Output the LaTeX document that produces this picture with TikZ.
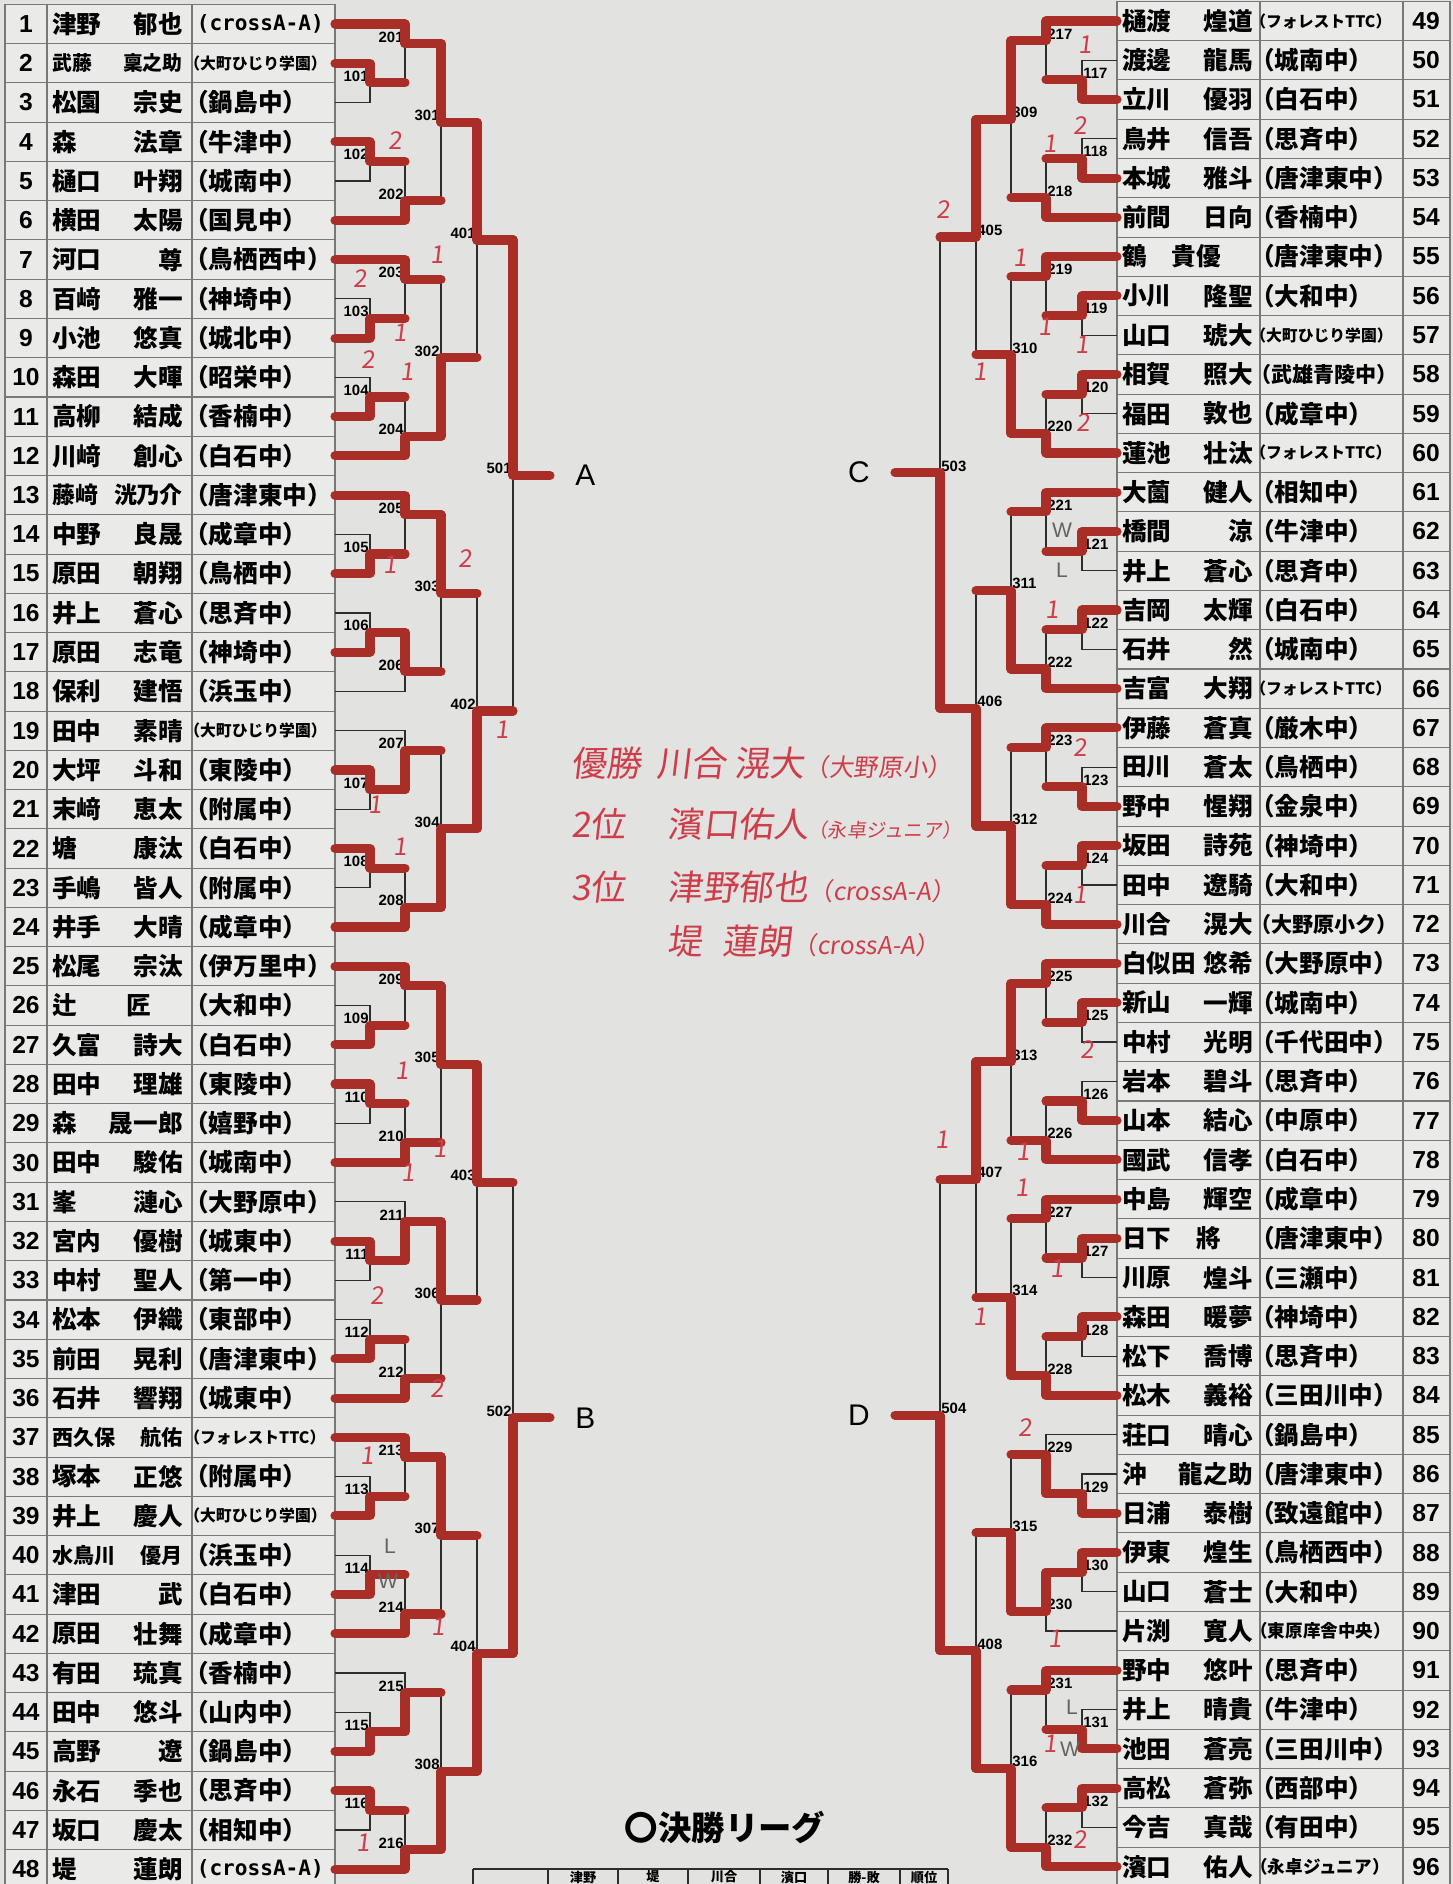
\documentclass[tikz,border=0pt]{standalone}
\usepackage{fontspec}
\setmainfont{Noto Sans CJK JP}
\newfontfamily\labfont{Liberation Sans}
\newfontfamily\monofont{DejaVu Sans Mono}
\newfontfamily\handfont[FakeSlant=0.12]{Noto Sans CJK JP}
\usetikzlibrary{calc,positioning}

\definecolor{paper}{RGB}{226,226,224}
\definecolor{cell}{RGB}{234,234,233}
\definecolor{gridgray}{RGB}{120,120,120}
\definecolor{inkline}{RGB}{45,45,45}
\definecolor{marker}{RGB}{170,46,40}
\definecolor{pen}{RGB}{205,62,74}
\definecolor{pencil}{RGB}{100,100,100}

\newcommand\crossaa{\hspace{0.25cm}{\monofont\fontsize{12}{12}\selectfont (crossA-A)}}

% match / entrant a / entrant b / next / winner
\newcommand\leftmatches{%
101/p2/p3/m201/p2, 201/p1/m101/m301/p1,
102/p4/p5/m202/p4, 202/m102/p6/m301/p6,
103/p8/p9/m203/p9, 203/p7/m103/m302/p7,
104/p10/p11/m204/p11, 204/m104/p12/m302/p12,
105/p14/p15/m205/p15, 205/p13/m105/m303/p13,
106/p16/p17/m206/p17, 206/m106/p18/m303/m106,
107/p20/p21/m207/p20, 207/p19/m107/m304/m107,
108/p22/p23/m208/p22, 208/m108/p24/m304/p24,
109/p26/p27/m209/p27, 209/p25/m109/m305/p25,
110/p28/p29/m210/p28, 210/m110/p30/m305/p30,
111/p32/p33/m211/p32, 211/p31/m111/m306/m111,
112/p34/p35/m212/p35, 212/m112/p36/m306/p36,
113/p38/p39/m213/p39, 213/p37/m113/m307/p37,
114/p40/p41/m214/p41, 214/m114/p42/m307/p42,
115/p44/p45/m215/p45, 215/p43/m115/m308/m115,
116/p46/p47/m216/p46, 216/m116/p48/m308/p48,
301/m201/m202/m401/m201, 302/m203/m204/m401/m204,
303/m205/m206/m402/m205, 304/m207/m208/m402/m208,
305/m209/m210/m403/m209, 306/m211/m212/m403/m211,
307/m213/m214/m404/m213, 308/m215/m216/m404/m216,
401/m301/m302/m501/m301, 402/m303/m304/m501/m304,
403/m305/m306/m502/m305, 404/m307/m308/m502/m308,
501/m401/m402/oA/m401, 502/m403/m404/oB/m404}

\newcommand\rightmatches{%
117/p50/p51/m217/p51, 217/p49/m117/m309/p49,
118/p52/p53/m218/p53, 218/m118/p54/m309/p54,
119/p56/p57/m219/p56, 219/p55/m119/m310/p55,
120/p58/p59/m220/p58, 220/m120/p60/m310/p60,
121/p62/p63/m221/p62, 221/p61/m121/m311/p61,
122/p64/p65/m222/p64, 222/m122/p66/m311/p66,
123/p68/p69/m223/p69, 223/p67/m123/m312/p67,
124/p70/p71/m224/p70, 224/m124/p72/m312/p72,
125/p74/p75/m225/p74, 225/p73/m125/m313/p73,
126/p76/p77/m226/p77, 226/m126/p78/m313/p78,
127/p80/p81/m227/p80, 227/p79/m127/m314/p79,
128/p82/p83/m228/p82, 228/m128/p84/m314/p84,
129/p86/p87/m229/p87, 229/p85/m129/m315/m129,
130/p88/p89/m230/p88, 230/m130/p90/m315/m130,
131/p92/p93/m231/p93, 231/p91/m131/m316/p91,
132/p94/p95/m232/p94, 232/m132/p96/m316/p96,
309/m217/m218/m405/m217, 310/m219/m220/m405/m220,
311/m221/m222/m406/m222, 312/m223/m224/m406/m224,
313/m225/m226/m407/m225, 314/m227/m228/m407/m228,
315/m229/m230/m408/m230, 316/m231/m232/m408/m232,
405/m309/m310/m503/m309, 406/m311/m312/m503/m312,
407/m313/m314/m504/m313, 408/m315/m316/m504/m316,
503/m405/m406/oC/m406, 504/m407/m408/oD/m408}

% no / family / given / size / school / size
\newcommand\leftplayers{%
1/津野/郁也/14/\crossaa/14, 2/武藤/稟之助/11.3/（大町ひじり学園）/9,
3/松園/宗史/14/（鍋島中）/14, 4/森/法章/14/（牛津中）/14,
5/樋口/叶翔/14/（城南中）/14, 6/横田/太陽/14/（国見中）/14,
7/河口/尊/14/（鳥栖西中）/14, 8/百﨑/雅一/14/（神埼中）/14,
9/小池/悠真/14/（城北中）/14, 10/森田/大暉/14/（昭栄中）/14,
11/高柳/結成/14/（香楠中）/14, 12/川﨑/創心/14/（白石中）/14,
13/藤﨑/洸乃介/13/（唐津東中）/14, 14/中野/良晟/14/（成章中）/14,
15/原田/朝翔/14/（鳥栖中）/14, 16/井上/蒼心/14/（思斉中）/14,
17/原田/志竜/14/（神埼中）/14, 18/保利/建悟/14/（浜玉中）/14,
19/田中/素晴/14/（大町ひじり学園）/9, 20/大坪/斗和/14/（東陵中）/14,
21/末﨑/恵太/14/（附属中）/14, 22/塘/康汰/14/（白石中）/14,
23/手嶋/皆人/14/（附属中）/14, 24/井手/大晴/14/（成章中）/14,
25/松尾/宗汰/14/（伊万里中）/14, 26/辻　　匠//14/（大和中）/14,
27/久富/詩大/14/（白石中）/14, 28/田中/理雄/14/（東陵中）/14,
29/森/晟一郎/14/（嬉野中）/14, 30/田中/駿佑/14/（城南中）/14,
31/峯/漣心/14/（大野原中）/14, 32/宮内/優樹/14/（城東中）/14,
33/中村/聖人/14/（第一中）/14, 34/松本/伊織/14/（東部中）/14,
35/前田/晃利/14/（唐津東中）/14, 36/石井/響翔/14/（城東中）/14,
37/西久保/航佑/12/（フォレストTTC）/9, 38/塚本/正悠/14/（附属中）/14,
39/井上/慶人/14/（大町ひじり学園）/9, 40/水鳥川/優月/12/（浜玉中）/14,
41/津田/武/14/（白石中）/14, 42/原田/壮舞/14/（成章中）/14,
43/有田/琉真/14/（香楠中）/14, 44/田中/悠斗/14/（山内中）/14,
45/高野/遼/14/（鍋島中）/14, 46/永石/季也/14/（思斉中）/14,
47/坂口/慶太/14/（相知中）/14, 48/堤/蓮朗/14/\crossaa/14}

\newcommand\rightplayers{%
49/樋渡/煌道/14/（フォレストTTC）/9, 50/渡邊/龍馬/14/（城南中）/14,
51/立川/優羽/14/（白石中）/14, 52/鳥井/信吾/14/（思斉中）/14,
53/本城/雅斗/14/（唐津東中）/14, 54/前間/日向/14/（香楠中）/14,
55/鶴　貴優//14/（唐津東中）/14, 56/小川/隆聖/14/（大和中）/14,
57/山口/琥大/14/（大町ひじり学園）/9, 58/相賀/照大/14/（武雄青陵中）/12,
59/福田/敦也/14/（成章中）/14, 60/蓮池/壮汰/14/（フォレストTTC）/9,
61/大薗/健人/14/（相知中）/14, 62/橋間/涼/14/（牛津中）/14,
63/井上/蒼心/14/（思斉中）/14, 64/吉岡/太輝/14/（白石中）/14,
65/石井/然/14/（城南中）/14, 66/吉富/大翔/14/（フォレストTTC）/9,
67/伊藤/蒼真/14/（厳木中）/14, 68/田川/蒼太/14/（鳥栖中）/14,
69/野中/惺翔/14/（金泉中）/14, 70/坂田/詩苑/14/（神埼中）/14,
71/田中/遼騎/14/（大和中）/14, 72/川合/滉大/14/（大野原小ク）/12,
73/白似田/悠希/14/（大野原中）/14, 74/新山/一輝/14/（城南中）/14,
75/中村/光明/14/（千代田中）/14, 76/岩本/碧斗/14/（思斉中）/14,
77/山本/結心/14/（中原中）/14, 78/國武/信孝/14/（白石中）/14,
79/中島/輝空/14/（成章中）/14, 80/日下　將//14/（唐津東中）/14,
81/川原/煌斗/14/（三瀬中）/14, 82/森田/暖夢/14/（神埼中）/14,
83/松下/喬博/14/（思斉中）/14, 84/松木/義裕/14/（三田川中）/14,
85/荘口/晴心/14/（鍋島中）/14, 86/沖/龍之助/14/（唐津東中）/14,
87/日浦/泰樹/14/（致遠館中）/14, 88/伊東/煌生/14/（鳥栖西中）/14,
89/山口/蒼士/14/（大和中）/14, 90/片渕/寛人/14/（東原庠舎中央）/10,
91/野中/悠叶/14/（思斉中）/14, 92/井上/晴貴/14/（牛津中）/14,
93/池田/蒼亮/14/（三田川中）/14, 94/高松/蒼弥/14/（西部中）/14,
95/今吉/真哉/14/（有田中）/14, 96/濱口/佑人/14/（永卓ジュニア）/10}

% red pen scores and pencil W/L
\newcommand\scorenotes{395/141/2, 437/255/1, 360/279/2, 400/333/1, 368/360/2,
407/372/1, 390/565/1, 465/559/2, 375/805/1, 400/847/1, 502/730/1,
402/1071/1, 440/1149/1, 408/1173/1, 377/1296/2, 437/1389/2, 367/1456/1,
438/1627/1, 363/1843/1, 1085/45/1, 1050/144/1, 1080/126/2, 943/210/2,
1020/258/1, 1045/327/1, 1082/345/1, 980/372/1, 1083/423/2, 1052/610/1,
1080/748/2, 1080/895/1, 1087/1050/2, 942/1140/1, 1023/1152/1, 1022/1188/1,
1057/1269/1, 980/1317/1, 1025/1428/2, 1055/1639/1, 1050/1744/1, 1080/1840/2}
\newcommand\wlnotes{390/1546/L, 388/1581/W, 1062/530/W, 1062/570/L, 1072/1707/L, 1070/1749/W}

\begin{document}
\begin{tikzpicture}[x=0.02cm, y=-0.02cm,
    bline/.style={draw=inkline, line width=0.7pt},
    win/.style={draw=marker, line width=5.2pt, line cap=round, line join=round},
    tabline/.style={draw=gridgray, line width=0.6pt},
    num/.style={font=\labfont\bfseries\fontsize{14}{14}\selectfont, inner sep=0pt},
    nm/.style={font=\bfseries\fontsize{#1}{#1}\selectfont, inner sep=0pt},
    sc/.style={font=\bfseries\fontsize{#1}{#1}\selectfont, inner sep=0pt, anchor=west},
    mlab/.style={font=\labfont\bfseries\fontsize{8.5}{8.5}\selectfont, inner sep=0.6pt},
    block/.style={font=\labfont\fontsize{17}{17}\selectfont, inner sep=0pt},
    hand/.style={font=\handfont\fontsize{14}{14}\selectfont, text=pen, inner sep=0pt},
    wl/.style={font=\labfont\fontsize{12}{12}\selectfont, text=pencil, inner sep=0pt},
    handtxt/.style={font=\handfont\fontsize{20}{20}\selectfont, text=pen, inner sep=0pt, anchor=west},
    headline/.style={font=\bfseries\fontsize{19}{19}\selectfont, inner sep=0pt},
    colhead/.style={font=\bfseries\fontsize{7.5}{7.5}\selectfont, inner sep=0pt}
  ]
  \useasboundingbox (0,0) rectangle (1453,1884);
  \clip (0,0) rectangle (1453,1884);
  \fill[paper] (0,0) rectangle (1453,1884);

  % entry tables
  \fill[cell] (5,4.4) rectangle (335,1895);
  \fill[cell] (1117,1.4) rectangle (1450,1895);
  \foreach \rw in {0,...,48} {
    \draw[tabline] (5,{4.4+\rw*39.26}) -- (335,{4.4+\rw*39.26});
    \draw[tabline] (1117,{1.4+\rw*39.27}) -- (1450,{1.4+\rw*39.27});
  }
  \foreach \xx in {5,47,192,335} \draw[tabline] (\xx,4.4) -- (\xx,1895);
  \foreach \xx in {1117,1260,1403,1450} \draw[tabline] (\xx,1.4) -- (\xx,1895);

  % player line ends and bracket columns
  \foreach \i in {1,...,48} \coordinate (p\i) at (335,{24+(\i-1)*39.26});
  \foreach \i in {49,...,96} \coordinate (p\i) at (1117,{21+(\i-49)*39.27});
  \foreach \k/\xx in {1/370,2/405,3/441,4/477,5/513} \coordinate (cl\k) at (\xx,0);
  \foreach \k/\xx in {1/1082,2/1046,3/1011,4/976,5/940} \coordinate (cr\k) at (\xx,0);
  \coordinate (oA) at (550,0);
  \coordinate (oB) at (550,0);
  \coordinate (oC) at (895,0);
  \coordinate (oD) at (895,0);
  \coordinate (xno) at (26,0);
  \coordinate (xfa) at (52,0);
  \coordinate (xgi) at (183,0);
  \coordinate (xsc) at (184,0);
  \coordinate (xfb) at (1122,0);
  \coordinate (xgb) at (1253,0);
  \coordinate (xsb) at (1250,0);
  \coordinate (xnb) at (1426,0);

  % names
  \foreach \i/\fa/\gi/\ns/\sch/\sz in \leftplayers {
    \node[num] (no\i) at (p\i -| xno) {\i};
    \node[nm=\ns, anchor=west] (fa\i) at (p\i -| xfa) {\fa};
    \node[nm=\ns, anchor=east] (gi\i) at (p\i -| xgi) {\gi};
    \node[sc=\sz] (sc\i) at (p\i -| xsc) {\sch};
  }
  \foreach \i/\fa/\gi/\ns/\sch/\sz in \rightplayers {
    \node[num] (no\i) at (p\i -| xnb) {\i};
    \node[nm=\ns, anchor=west] (fa\i) at (p\i -| xfb) {\fa};
    \node[nm=\ns, anchor=east] (gi\i) at (p\i -| xgb) {\gi};
    \node[sc=\sz] (sc\i) at (p\i -| xsb) {\sch};
  }

  % match points (2xx join at the row line next to the bye)
  \foreach \id/\ea/\eb/\nx/\w [evaluate=\id as \lvl using int(\id/100),
      evaluate={\id as \wt using ifthenelse(equal(int(\id/100),2), 0.6667-0.3333*mod(\id,2), 0.5)}] in \leftmatches {
    \coordinate (t) at ($(\ea)!\wt!(\eb)$);
    \coordinate (m\id) at (t -| cl\lvl);
  }
  \foreach \id/\ea/\eb/\nx/\w [evaluate=\id as \lvl using int(\id/100),
      evaluate={\id as \wt using ifthenelse(equal(int(\id/100),2), 0.6667-0.3333*mod(\id,2), 0.5)}] in \rightmatches {
    \coordinate (t) at ($(\ea)!\wt!(\eb)$);
    \coordinate (m\id) at (t -| cr\lvl);
  }

  % printed bracket
  \foreach \id/\ea/\eb/\nx/\w in \leftmatches {
    \draw[bline] (\ea) -| (m\id) |- (\eb);
    \draw[bline] (m\id) -- (m\id -| \nx);
    \node[mlab, anchor=south east] (lab\id) at (m\id) {\id};
  }
  \foreach \id/\ea/\eb/\nx/\w in \rightmatches {
    \draw[bline] (\ea) -| (m\id) |- (\eb);
    \draw[bline] (m\id) -- (m\id -| \nx);
    \node[mlab, anchor=south west] (lab\id) at (m\id) {\id};
  }

  % marker over the winners
  \foreach \id/\ea/\eb/\nx/\w in \leftmatches
    \draw[win] (\w) -| (m\id) -- (m\id -| \nx);
  \foreach \id/\ea/\eb/\nx/\w in \rightmatches
    \draw[win] (\w) -| (m\id) -- (m\id -| \nx);

  % block letters
  \coordinate (eA) at (m501 -| oA);
  \coordinate (eB) at (m502 -| oB);
  \coordinate (eC) at (m503 -| oC);
  \coordinate (eD) at (m504 -| oD);
  \node[block, right=0.5cm of eA] (blkA) {A};
  \node[block, right=0.5cm of eB] (blkB) {B};
  \node[block, left=0.5cm of eC] (blkC) {C};
  \node[block, left=0.5cm of eD] (blkD) {D};

  % hand notes
  \foreach \xx/\yy/\tx [count=\k] in \scorenotes \node[hand] (sn\k) at (\xx,\yy) {\tx};
  \foreach \xx/\yy/\tx [count=\k] in \wlnotes \node[wl] (wn\k) at (\xx,\yy) {\tx};

  \node[handtxt] (res1) at (571,763) {優勝\hspace{0.3cm}川合\hspace{0.15cm}滉大{\fontsize{14}{14}\selectfont（大野原小）}};
  \node[handtxt] (res2) at (571,824) {2位\hspace{0.84cm}濱口佑人{\fontsize{11}{11}\selectfont（永卓ジュニア）}};
  \node[handtxt] (res3) at (571,887) {3位\hspace{0.84cm}津野郁也{\fontsize{14}{14}\selectfont（crossA-A）}};
  \node[handtxt] (res4) at (667,941) {堤\hspace{0.4cm}蓮朗{\fontsize{14}{14}\selectfont（crossA-A）}};

  % final league table (cut by the page edge)
  \node[headline] (league) at (725,1827) {〇決勝リーグ};
  \draw[tabline, draw=inkline] (473,1869) -- (948,1869);
  \foreach \xx in {473,548,618,688,760,828,900,948}
    \draw[tabline, draw=inkline] (\xx,1869) -- (\xx,1900);
  \foreach \xx/\tx [count=\k] in {583/津野, 653/堤, 724/川合, 794/濱口, 864/勝-敗, 924/順位}
    \node[colhead] (hd\k) at (\xx,1877) {\tx};
\end{tikzpicture}
\end{document}
